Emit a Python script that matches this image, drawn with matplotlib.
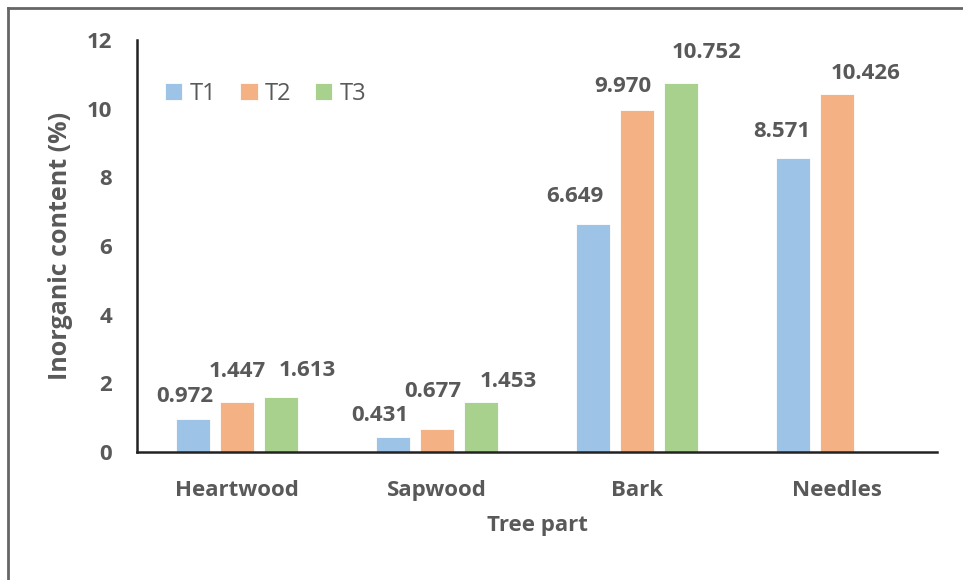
import matplotlib.pyplot as plt
import numpy as np

# === Data ===
parts = ["Heartwood", "Sapwood", "Bark", "Needles"]
t1 = [0.972, 0.431, 6.649, 8.571]
t2 = [1.447, 0.677, 9.970, 10.426]
t3 = [1.613, 1.453, 10.752, None]   # no T3 for needles
series_names = ["T1", "T2", "T3"]
yticks = [0, 2, 4, 6, 8, 10, 12]

colors = ["#9DC3E6", "#F4B183", "#A9D18E"]
grey = "#595959"
plt.rcParams["font.family"] = ["Open Sans", "DejaVu Sans"]

# label nudges in pixels (dx, dy above bar top), per series per part
label_offsets = [
    [(-8, 22), (-13, 22), (-18, 27), (-11, 26)],
    [(0, 31), (-4, 37), (-14, 23), (29, 21)],
    [(26, 26), (27, 21), (26, 30), None],
]

fig = plt.figure(figsize=(9.63, 5.80), dpi=100)
ax = fig.add_axes([137/963, 1-452/580, 800/963, 412/580])

x = np.arange(len(parts))
width = 0.17
step = 0.22
all_series = [t1, t2, t3]
for i, vals in enumerate(all_series):
    xs = [xx + (i-1)*step for xx, v in zip(x, vals) if v is not None]
    vs = [v for v in vals if v is not None]
    ax.bar(xs, vs, width, color=colors[i], label=series_names[i],
           edgecolor="white", linewidth=0.6)
    for j, (xx, v) in enumerate(zip(xs, vs)):
        dx, dy = label_offsets[i][j]
        ax.annotate(f"{v:.3f}", (xx, v), xytext=(dx, dy), textcoords="offset pixels",
                    ha="center", va="center", fontsize=16, fontweight="bold", color=grey)

ax.set_xlim(-0.5, 3.5)
ax.set_ylim(0, 12)
ax.set_yticks(yticks)
ax.set_xticks(x)
ax.set_xticklabels(parts)
ax.tick_params(length=0, labelsize=16, colors=grey)
ax.tick_params(axis="x", pad=20)
ax.tick_params(axis="y", pad=18)
for lab in ax.get_xticklabels() + ax.get_yticklabels():
    lab.set_fontweight("bold")
for s in ["top", "right"]:
    ax.spines[s].set_visible(False)
for s in ["left", "bottom"]:
    ax.spines[s].set_linewidth(1.8)
    ax.spines[s].set_color("#222222")

ax.set_ylabel("Inorganic content (%)", fontsize=18, fontweight="bold", color=grey, labelpad=10)
ax.set_xlabel("Tree part", fontsize=16, fontweight="bold", color=grey, labelpad=10)

ax.legend(loc="upper left", bbox_to_anchor=(0.008, 0.95), ncol=3, frameon=False,
          fontsize=17, handlelength=0.75, handleheight=0.75, handletextpad=0.3,
          columnspacing=1.0, labelcolor=grey)

# outer frame lines (top and left only)
fig.add_artist(plt.Line2D([8/963, 8/963], [0, 1-8/580], transform=fig.transFigure, color="#666666", lw=2))
fig.add_artist(plt.Line2D([8/963, 1], [1-8/580, 1-8/580], transform=fig.transFigure, color="#666666", lw=2))

fig.savefig("out.png", dpi=100)
